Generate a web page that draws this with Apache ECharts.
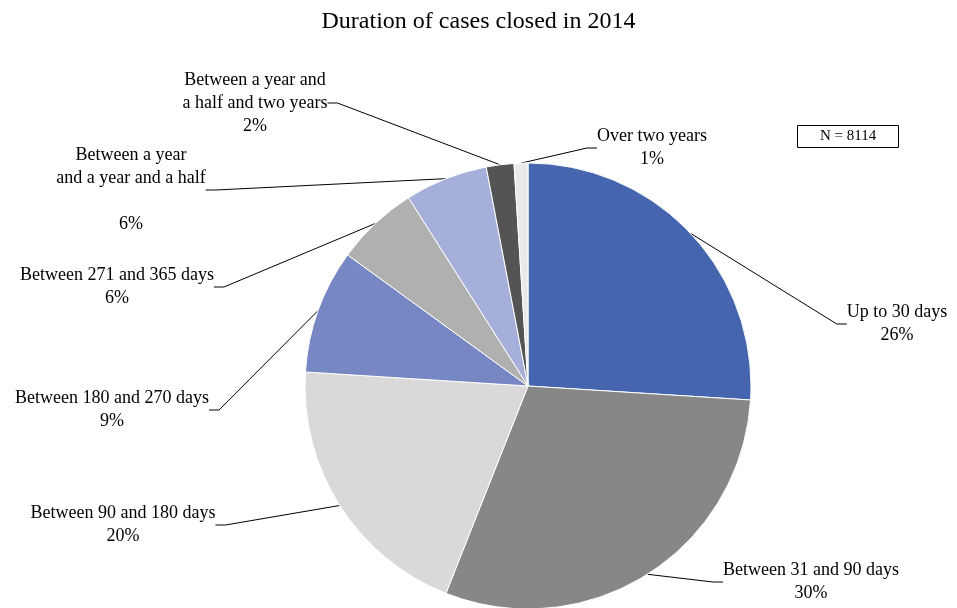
<!DOCTYPE html>
<html>
<head>
<meta charset="utf-8">
<script src="https://cdn.jsdelivr.net/npm/echarts@6/dist/echarts.min.js"></script>
<style>
  html, body { margin: 0; padding: 0; background: #fff; }
  #chart { width: 957px; height: 608px; }
</style>
</head>
<body>
<div id="chart"></div>
<script>
var categories = [
  'Up to 30 days',
  'Between 31 and 90 days',
  'Between 90 and 180 days',
  'Between 180 and 270 days',
  'Between 271 and 365 days',
  'Between a year\nand a year and a half\n',
  'Between a year and\na half and two years',
  'Over two years'
];
var shares = [26, 30, 20, 9, 6, 6, 2, 1];
var totalCases = 8114;

var colors = ['#4566ae', '#878787', '#d9d9d9', '#7787c4', '#b0b0b0', '#a6afd9', '#545454', '#e9e9e9'];
// label block centres (page px), one per slice
var labelSpots = [
  [897, 324], [811, 582], [123, 525], [112, 410],
  [117, 287], [131, 190], [255, 103], [652, 148]
];

var chart = echarts.init(document.getElementById('chart'));
var font = '"Liberation Serif", "DejaVu Serif", serif';

chart.setOption({
  animation: false,
  color: colors,
  title: [
    {
      text: 'Duration of cases closed in 2014',
      left: 'center',
      top: 5,
      textStyle: { fontFamily: font, fontSize: 24, fontWeight: 'normal', color: '#000' }
    },
    {
      text: 'N = ' + totalCases,
      left: 797,
      top: 125,
      padding: [4, 23, 4, 23],
      borderWidth: 1,
      borderColor: '#000',
      textStyle: { fontFamily: font, fontSize: 15, fontWeight: 'normal', color: '#000' }
    }
  ],
  series: [
    {
      type: 'pie',
      center: [528, 386],
      radius: 223,
      startAngle: 90,
      clockwise: true,
      avoidLabelOverlap: false,
      itemStyle: { borderColor: '#fff', borderWidth: 1 },
      label: {
        show: true,
        position: 'outside',
        formatter: function (p) { return p.name + '\n' + p.value + '%'; },
        fontFamily: font,
        fontSize: 18,
        lineHeight: 23,
        color: '#000',
        align: 'center'
      },
      labelLine: {
        show: true,
        length: 20,
        length2: 10,
        lineStyle: { color: '#000', width: 1 }
      },
      labelLayout: function (params) {
        var s = labelSpots[params.dataIndex];
        return { x: s[0], y: s[1], align: 'center', verticalAlign: 'middle' };
      },
      data: categories.map(function (c, i) { return { name: c, value: shares[i] }; })
    }
  ]
});
</script>
</body>
</html>
